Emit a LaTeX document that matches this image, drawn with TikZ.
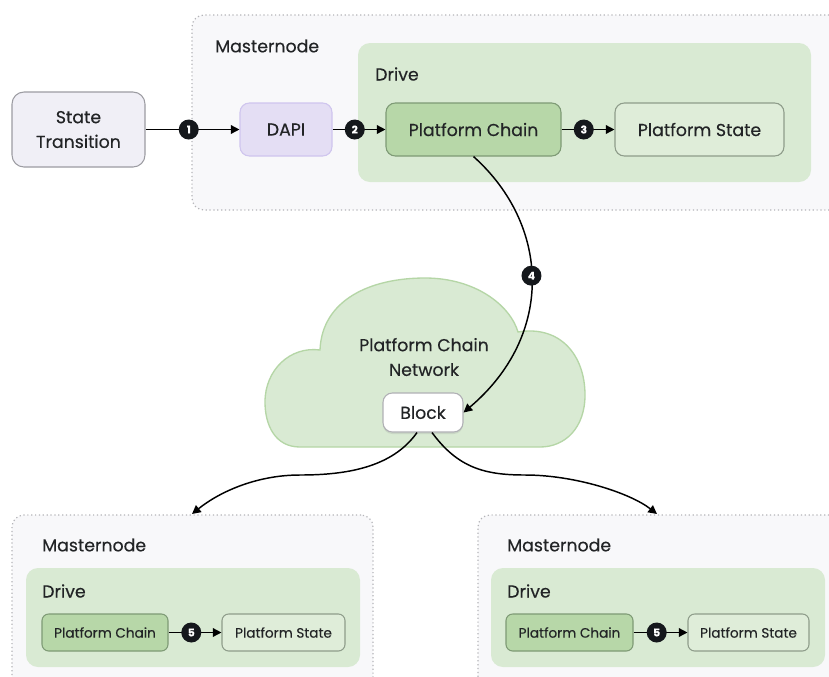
\documentclass[tikz,border=0pt]{standalone}
\usepackage{fontspec}
\setmainfont{Poppins}[FakeBold=0.35]
\usetikzlibrary{fit,shadows,arrows.meta,calc}
\definecolor{mnfill}{HTML}{F8F8FA}
\definecolor{mnborder}{HTML}{B4B4B8}
\definecolor{drivegreen}{HTML}{D9EAD3}
\definecolor{pcfill}{HTML}{B7D7A8}
\definecolor{pcborder}{HTML}{7E9A75}
\definecolor{psfill}{HTML}{DFEDD9}
\definecolor{psborder}{HTML}{8E9C8A}
\definecolor{stfill}{HTML}{F0EFF6}
\definecolor{stborder}{HTML}{9C9CA2}
\definecolor{dapifill}{HTML}{E4DEF4}
\definecolor{dapiborder}{HTML}{CFC5EE}
\definecolor{cloudborder}{HTML}{B5D6A6}
\definecolor{txt}{HTML}{222426}
\definecolor{badgecol}{HTML}{15181C}
\begin{document}
\begin{tikzpicture}[x=0.75pt,y=-0.75pt,
  mnbox/.style={draw=mnborder, dotted, line width=0.9pt, fill=mnfill, rounded corners=9pt, inner sep=0pt},
  drivebox/.style={fill=drivegreen, rounded corners=9pt, inner sep=0pt},
  basebox/.style={line width=0.8pt, rounded corners=7pt, inner sep=0pt, text=txt, align=center},
  bigfont/.style={font=\fontsize{13}{18.5}\selectfont},
  smallfont/.style={font=\fontsize{10.2}{12}\selectfont},
  pcbox/.style={basebox, draw=pcborder, fill=pcfill},
  psbox/.style={basebox, draw=psborder, fill=psfill},
  lbl/.style={anchor=west, text=txt, inner sep=0pt, font=\fontsize{13}{15}\selectfont},
  badge/.style={circle, fill=badgecol, text=white, font=\bfseries\fontsize{8}{8}\selectfont, inner sep=0pt, minimum size=15pt},
  arr/.style={-{Triangle[length=6.5pt,width=6.5pt]}, line width=1.1pt, draw=black}
]
\useasboundingbox (0,0) rectangle (829,676);
\clip (0,0) rectangle (829,676);
\fill[white] (0,0) rectangle (829,676);

% ---------- top masternode ----------
\node[mnbox, fit={(192,15) (845,210)}] (mnT) {};
\node[lbl] (mnTl) at (215,46) {Masternode};
\node[drivebox, fit={(358,43) (811,182)}] (drT) {};
\node[lbl] (drTl) at (375,74) {Drive};

\node[basebox, bigfont, draw=stborder, fill=stfill, rounded corners=9pt, fit={(12,92) (145,167)}] (st) {};
\node[text=txt, bigfont, align=center] (stt) at (st.center) {State\\Transition};
\node[basebox, bigfont, draw=dapiborder, fill=dapifill, fit={(240,103) (332,156)}] (dapi) {};
\node[text=txt, bigfont] (dapit) at (dapi.center) {DAPI};
\node[pcbox, fit={(386,103) (561,156)}] (pc) {};
\node[text=txt, bigfont] (pct) at (pc.center) {Platform Chain};
\node[psbox, fit={(615,103) (784,156)}] (ps) {};
\node[text=txt, bigfont] (pst) at (ps.center) {Platform State};

\draw[arr] (st.east) -- (dapi.west) node[badge, pos=0.46] (b1) {1};
\draw[arr] (dapi.east) -- (pc.west) node[badge, pos=0.42] (b2) {2};
\draw[arr] (pc.east) -- (ps.west) node[badge, pos=0.42] (b3) {3};

% ---------- cloud ----------
\path[fill=drivegreen, draw=cloudborder, line width=1pt]
  (320,350) .. controls (322,300) and (370,278) .. (425,278)
  .. controls (475,278) and (510,305) .. (518,332)
  .. controls (560,325) and (585,355) .. (585,395)
  .. controls (585,428) and (565,447) .. (540,447)
  -- (300,447)
  .. controls (275,447) and (265,425) .. (265,402)
  .. controls (265,370) and (290,346) .. (320,350) -- cycle;
\node[text=txt, bigfont, align=center] (net) at (424,357) {Platform Chain\\Network};
\node[basebox, draw=stborder!80, fill=white, drop shadow={opacity=0.18, shadow xshift=0pt, shadow yshift=-1.5pt}, fit={(383,393) (463,432)}] (block) {};
\node[text=txt, bigfont] (blockt) at (block.center) {Block};

\draw[arr] (pc.south) .. controls (550,225) and (555,335) .. (block.east)
  node[badge, pos=0.48] (b4) {4};

% ---------- bottom left masternode ----------
\node[mnbox, fit={(12,515) (373,690)}] (mnL) {};
\node[lbl] (mnLl) at (42,545) {Masternode};
\node[drivebox, fit={(26,568) (360,667)}] (drL) {};
\node[lbl] (drLl) at (42,591) {Drive};
\node[pcbox, rounded corners=5pt, fit={(42,614) (168,651)}] (pcL) {};
\node[text=txt, smallfont] (pcLt) at (pcL.center) {Platform Chain};
\node[psbox, rounded corners=5pt, fit={(222,614) (345,651)}] (psL) {};
\node[text=txt, smallfont] (psLt) at (psL.center) {Platform State};
\draw[arr] (pcL.east) -- (psL.west) node[badge, pos=0.43] (b5l) {5};

% ---------- bottom right masternode ----------
\node[mnbox, fit={(478,515) (845,690)}] (mnR) {};
\node[lbl] (mnRl) at (507,545) {Masternode};
\node[drivebox, fit={(491,568) (825,667)}] (drR) {};
\node[lbl] (drRl) at (507,591) {Drive};
\node[pcbox, rounded corners=5pt, fit={(506,614) (633,651)}] (pcR) {};
\node[text=txt, smallfont] (pcRt) at (pcR.center) {Platform Chain};
\node[psbox, rounded corners=5pt, fit={(688,614) (809,651)}] (psR) {};
\node[text=txt, smallfont] (psRt) at (psR.center) {Platform State};
\draw[arr] (pcR.east) -- (psR.west) node[badge, pos=0.43] (b5r) {5};

% ---------- block to masternodes ----------
\coordinate (tipL) at (192,514);
\coordinate (tipR) at (657,514);
\draw[arr] ($(block.south)+(-6,0)$) .. controls (392,468) and (345,475) .. (300,475)
  .. controls (255,475) and (218,493) .. (tipL);
\draw[arr] ($(block.south)+(9,0)$) .. controls (458,468) and (485,475) .. (525,475)
  .. controls (575,475) and (630,493) .. (tipR);
\end{tikzpicture}
\end{document}
